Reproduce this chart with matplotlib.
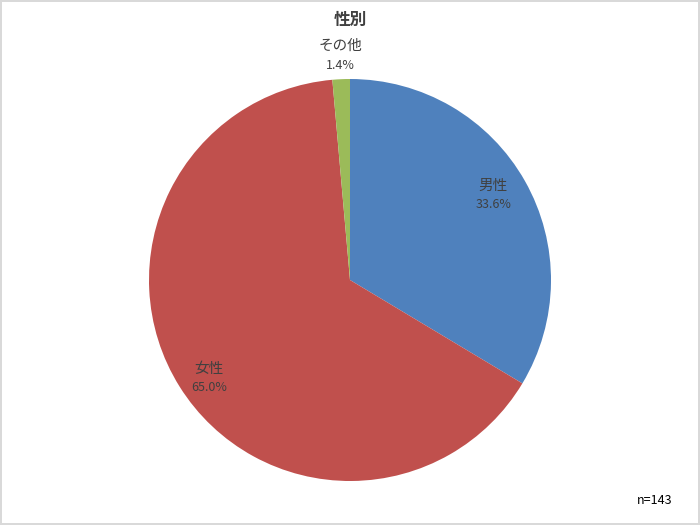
import matplotlib
matplotlib.use("Agg")
import matplotlib.pyplot as plt
import numpy as np

plt.rcParams['font.family'] = ['Noto Sans CJK JP', 'DejaVu Sans']

categories = ['男性', '女性', 'その他']
values = [33.6, 65.0, 1.4]
colors = ['#4f81bd', '#c0504d', '#9bbb59']
label_dist = [0.83, 0.84, 1.12]
label_shift = [(-2, 3), (2, -8), (0, 0)]

fig = plt.figure(figsize=(7, 5.25), dpi=100)
fig.patch.set_edgecolor('#d9d9d9')
fig.patch.set_linewidth(1.5)
ax = fig.add_axes([0, 0, 1, 1])

cx, cy, r = 350, 245, 201
wedges, _ = ax.pie(values, colors=colors, startangle=90, counterclock=False,
                   center=(cx, cy), radius=r, frame=True,
                   wedgeprops=dict(linewidth=0))
ax.set_xlim(0, 700)
ax.set_ylim(0, 525)
ax.set_aspect('equal')
ax.axis('off')

for w, name, v, d, (dx, dy) in zip(wedges, categories, values, label_dist, label_shift):
    ang = np.deg2rad((w.theta1 + w.theta2) / 2)
    x = cx + d * r * np.cos(ang) + dx
    y = cy + d * r * np.sin(ang) + dy
    ax.text(x, y + 9, name, ha='center', va='center', fontsize=10.5, color='#404040')
    ax.text(x, y - 10, f'{v:.1f}%', ha='center', va='center', fontsize=9,
            color='#404040')

ax.text(350, 505, '性別', ha='center', va='center', fontsize=12,
        fontweight='bold', color='#404040')
ax.text(655, 25, 'n=143', ha='center', va='center', fontsize=9, color='black')

fig.savefig('out.png', dpi=100)
